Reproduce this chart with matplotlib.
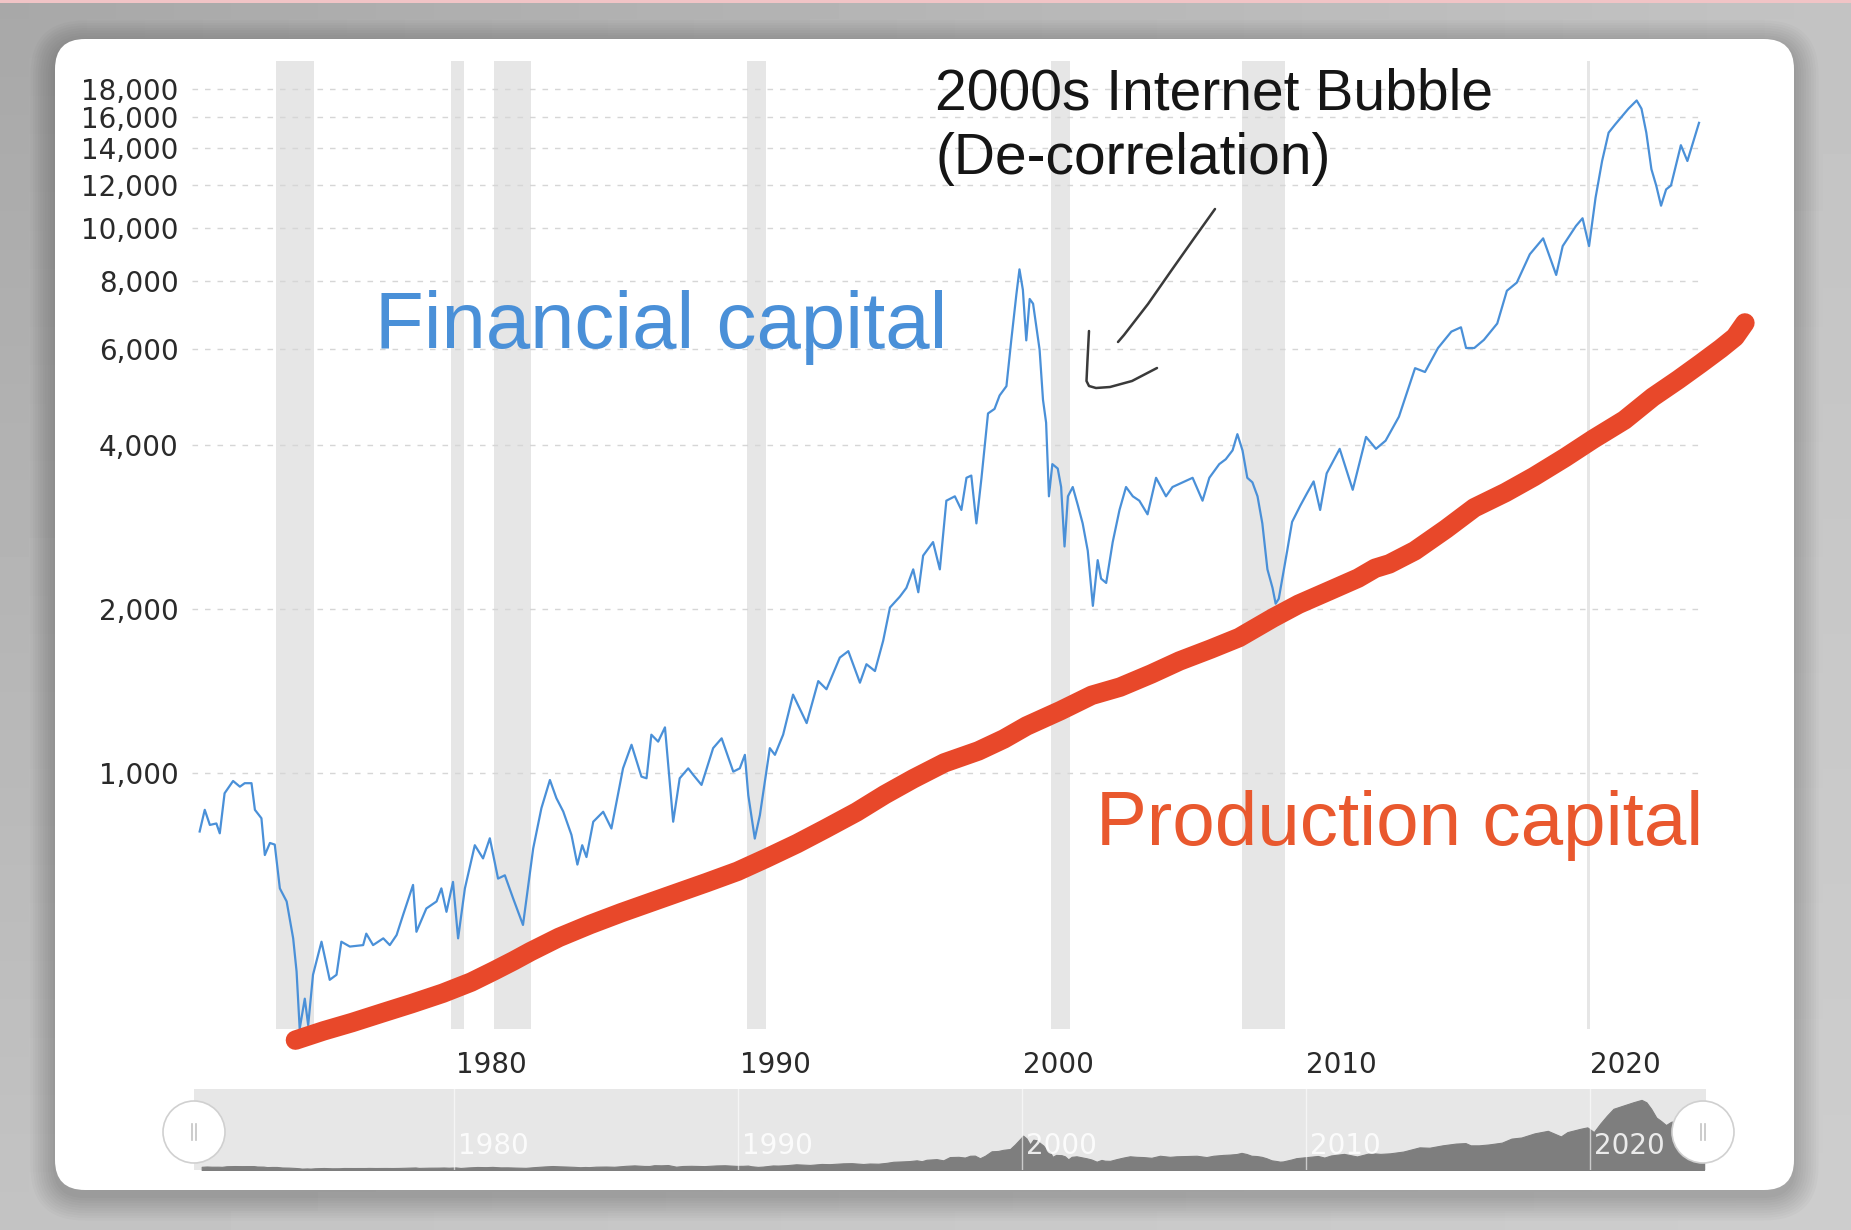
import numpy as np
import matplotlib
matplotlib.use('Agg')
import matplotlib.pyplot as plt
import matplotlib.transforms as mtransforms
from matplotlib.patches import FancyBboxPatch, Circle, Rectangle
from matplotlib.ticker import FixedLocator, FuncFormatter, NullLocator

W, H = 1851, 1230
DPI = 100

# Financial capital: index value (inflation adjusted)
fin_year = [
    1971.12, 1971.30, 1971.48, 1971.71, 1971.83, 1972.00, 1972.30, 1972.54, 1972.71, 1972.95,
    1973.07, 1973.30, 1973.42, 1973.60, 1973.77, 1973.95, 1974.19, 1974.42, 1974.54, 1974.65,
    1974.83, 1974.95, 1975.12, 1975.42, 1975.71, 1975.95, 1976.12, 1976.42, 1976.89, 1977.00,
    1977.24, 1977.60, 1977.83, 1978.07, 1978.30, 1978.65, 1978.77, 1979.12, 1979.48, 1979.65,
    1979.83, 1980.06, 1980.24, 1980.48, 1980.83, 1981.12, 1981.36, 1981.65, 1981.89, 1982.18,
    1982.53, 1982.89, 1983.18, 1983.48, 1983.71, 1983.95, 1984.24, 1984.45, 1984.62, 1984.77,
    1985.01, 1985.36, 1985.65, 1986.06, 1986.36, 1986.71, 1986.89, 1987.06, 1987.30, 1987.54,
    1987.83, 1988.06, 1988.36, 1988.54, 1988.83, 1989.24, 1989.54, 1989.95, 1990.18, 1990.36,
    1990.48, 1990.71, 1990.89, 1991.24, 1991.42, 1991.71, 1992.06, 1992.54, 1992.95, 1993.24,
    1993.71, 1994.01, 1994.42, 1994.65, 1994.95, 1995.24, 1995.48, 1995.83, 1996.06, 1996.30,
    1996.48, 1996.65, 1997.00, 1997.24, 1997.47, 1997.77, 1998.00, 1998.18, 1998.35, 1998.53,
    1998.71, 1998.94, 1999.17, 1999.35, 1999.59, 1999.76, 1999.94, 2000.05, 2000.17, 2000.29,
    2000.41, 2000.53, 2000.62, 2000.76, 2000.88, 2000.99, 2001.09, 2001.21, 2001.40, 2001.52,
    2001.64, 2001.76, 2001.93, 2002.11, 2002.28, 2002.46, 2002.64, 2002.81, 2002.93, 2003.11,
    2003.34, 2003.58, 2003.81, 2004.05, 2004.28, 2004.57, 2004.87, 2005.22, 2005.45, 2005.81,
    2006.16, 2006.51, 2006.75, 2007.10, 2007.33, 2007.57, 2007.74, 2007.92, 2008.09, 2008.27,
    2008.45, 2008.62, 2008.80, 2008.98, 2009.09, 2009.20, 2009.50, 2009.67, 2009.96, 2010.19,
    2010.43, 2010.66, 2010.89, 2011.35, 2011.81, 2012.28, 2012.63, 2012.97, 2013.44, 2014.01,
    2014.36, 2014.82, 2015.29, 2015.63, 2015.81, 2016.10, 2016.44, 2016.91, 2017.25, 2017.60,
    2018.06, 2018.53, 2018.99, 2019.22, 2019.69, 2019.92, 2020.15, 2020.38, 2020.61, 2020.84,
    2021.07, 2021.54, 2021.83, 2022.00, 2022.17, 2022.35, 2022.52, 2022.69, 2022.87, 2023.04,
    2023.39, 2023.62, 2024.03,
]
fin_value = [
    782, 857, 804, 809, 776, 919, 968, 945, 959, 959,
    857, 827, 708, 745, 740, 615, 582, 498, 433, 340,
    386, 345, 427, 491, 418, 427, 491, 481, 484, 508,
    484, 498, 484, 505, 550, 624, 512, 565, 582, 615,
    557, 632, 498, 615, 738, 698, 760, 641, 650, 590,
    527, 728, 863, 972, 900, 851, 771, 680, 738, 702,
    815, 850, 792, 1021, 1128, 986, 979, 1177, 1143, 1214,
    815, 979, 1021, 993, 952, 1112, 1159, 1007, 1021, 1081,
    912, 759, 838, 1112, 1081, 1177, 1394, 1236, 1476, 1426,
    1630, 1675, 1466, 1585, 1540, 1750, 2014, 2109, 2188, 2366,
    2148, 2507, 2655, 2366, 3162, 3221, 3041, 3483, 3516, 2873,
    3483, 4571, 4659, 4932, 5129, 6223, 7551, 8400, 7704, 6223,
    7413, 7266, 6730, 5984, 4842, 4396, 3221, 3690, 3622, 3350,
    2606, 3221, 3350, 3102, 2873, 2559, 2028, 2460, 2275, 2234,
    2655, 3041, 3350, 3221, 3162, 2985, 3483, 3221, 3350, 3417,
    3483, 3162, 3483, 3690, 3767, 3911, 4188, 3911, 3483, 3417,
    3221, 2873, 2366, 2188, 2047, 2090, 2564, 2891, 3097, 3258,
    3430, 3041, 3548, 3936, 3311, 4140, 3936, 4074, 4508, 5534,
    5445, 6026, 6457, 6577, 6026, 6026, 6237, 6683, 7674, 7943,
    8954, 9575, 8204, 9268, 10093, 10423, 9268, 11376, 13274, 14962,
    15488, 16557, 17140, 16557, 14962, 12823, 11967, 10990, 11776, 11967,
    14191, 13274, 15596,
]

# Production capital: the hand drawn red trend line
prod_year = [1974.50, 1975.50, 1976.50, 1977.60, 1978.60, 1979.70, 1980.70, 1981.50, 1982.20,
             1982.80, 1983.80, 1984.90, 1986.00, 1987.00, 1988.00, 1989.00, 1990.10, 1991.10,
             1992.20, 1993.20, 1994.30, 1995.30, 1996.30, 1997.40, 1998.60, 1999.50, 2000.30,
             2001.50, 2002.60, 2003.60, 2004.70, 2005.70, 2006.80, 2007.80, 2009.00, 2009.90,
             2011.00, 2012.00, 2012.60, 2013.10, 2014.00, 2015.10, 2016.10, 2017.20, 2018.20,
             2019.30, 2020.30, 2021.40, 2022.40, 2023.30, 2024.10, 2024.80, 2025.30, 2025.65]
prod_value = [324, 337, 349, 364, 378, 395, 414, 434, 453,
              471, 500, 528, 555, 579, 604, 630, 661, 698,
              743, 791, 849, 914, 977, 1045, 1099, 1156, 1221,
              1303, 1390, 1439, 1521, 1607, 1690, 1774, 1928, 2042,
              2163, 2280, 2377, 2421, 2559, 2805, 3069, 3273, 3499,
              3793, 4102, 4446, 4898, 5272, 5649, 6012, 6310, 6699]

# recession periods (grey bands)
rec_start = [1973.83, 1980.00, 1981.50, 1990.45, 2001.17, 2007.92, 2020.08]
rec_end = [1975.17, 1980.45, 1982.83, 1991.10, 2001.83, 2009.42, 2020.18]

y_ticks = [1000, 2000, 4000, 6000, 8000, 10000, 12000, 14000, 16000, 18000]
x_ticks = [1980, 1990, 2000, 2010, 2020]

BLUE = '#4a90d8'
RED = '#e8482a'
RED_TXT = '#e9582e'
TXT = 'Liberation Sans'

fig = plt.figure(figsize=(W / DPI, H / DPI), dpi=DPI)

# background + card, in pixel coordinates
bg = fig.add_axes([0, 0, 1, 1])
bg.set_xlim(0, W)
bg.set_ylim(H, 0)
bg.axis('off')
gx, gy = np.meshgrid(np.linspace(0, 1, 64), np.linspace(0, 1, 64))
shade = 168 + 27 * gx + 27 * gy - 17 * gx * gy
bg.imshow(shade, cmap='gray', vmin=0, vmax=255, extent=(0, W, H, 0), aspect='auto', zorder=0)
bg.add_patch(Rectangle((0, 0), W, 3, fc='#f1c4c6', ec='none', zorder=1))
for i in range(10):
    s = 2 + i * 2.5
    bg.add_patch(FancyBboxPatch((55 - s, 39 - s + 6), 1739 + 2 * s, 1151 + 2 * s,
                                boxstyle='round,pad=0,rounding_size=%d' % (30 + s),
                                fc='black', ec='none', alpha=0.018, zorder=1))
bg.add_patch(FancyBboxPatch((55, 39), 1739, 1151, boxstyle='round,pad=0,rounding_size=30',
                            fc='white', ec='none', zorder=2))

# main chart
x_lo, x_hi = 1970.85, 2024.1
ax = fig.add_axes([192 / W, 1 - 1029 / H, (1701 - 192) / W, (1029 - 61) / H])
ax.patch.set_alpha(0)
ax.set_yscale('log')
ax.set_xlim(x_lo, x_hi)
ax.set_ylim(339.6, 20250)
for s in ax.spines.values():
    s.set_visible(False)

for a, b in zip(rec_start, rec_end):
    ax.axvspan(a, b, color='#e6e6e6', lw=0, zorder=0)
for v in y_ticks:
    ax.axhline(v, color='#d6d6d6', lw=1, ls=(0, (4, 5)), zorder=1)

ax.plot(fin_year, fin_value, color=BLUE, lw=1.6, zorder=3, solid_joinstyle='round')
ax.plot(prod_year, prod_value, color=RED, lw=14, solid_capstyle='round',
        solid_joinstyle='round', clip_on=False, zorder=4)

ax.yaxis.set_major_locator(FixedLocator(y_ticks))
ax.yaxis.set_minor_locator(NullLocator())
ax.yaxis.set_major_formatter(FuncFormatter(lambda v, p: '{:,.0f}'.format(v)))
ax.set_xticks(x_ticks)
ax.set_xticklabels([str(y) for y in x_ticks])
ax.tick_params(axis='y', length=0, pad=9.5, labelsize=20, labelcolor='#2a2a2a')
ax.tick_params(axis='x', length=0, pad=15.5, labelsize=20, labelcolor='#2a2a2a')
shift = mtransforms.ScaledTranslation(5 / DPI, 0, fig.dpi_scale_trans)
for lab in ax.get_xticklabels():
    lab.set_horizontalalignment('left')
    lab.set_transform(lab.get_transform() + shift)

# navigator strip under the chart
nav = fig.add_axes([194 / W, 1 - 1170 / H, (1706 - 194) / W, (1170 - 1089) / H])
nav.set_facecolor('#e7e7e7')
nav.set_xlim(x_lo, x_hi)
nav.set_ylim(0, 19800)
nav.fill_between(fin_year, fin_value, 0, color='#7e7e7e', lw=0.8, zorder=2)
nav.set_xticks([])
nav.set_yticks([])
for s in nav.spines.values():
    s.set_visible(False)
nav_tr = mtransforms.blended_transform_factory(nav.transData, nav.transAxes)
for yr in x_ticks:
    nav.axvline(yr, color='white', lw=1, alpha=0.6, zorder=3)
    nav.text(yr + 0.15, 0.3, str(yr), transform=nav_tr, ha='left', va='center',
             fontsize=20, color='white', alpha=0.85, zorder=4)

# overlay: labels, hand drawn arrow, navigator handles
fg = fig.add_axes([0, 0, 1, 1])
fg.set_xlim(0, W)
fg.set_ylim(H, 0)
fg.axis('off')
fg.patch.set_alpha(0)

fg.text(375, 348, 'Financial capital', fontsize=57.5, color=BLUE, family=TXT, va='baseline')
fg.text(1096, 845, 'Production capital', fontsize=55, color=RED_TXT, family=TXT, va='baseline')
fg.text(935, 109, '2000s Internet Bubble', fontsize=41, color='#151515', family=TXT, va='baseline')
fg.text(935, 174, '(De-correlation)', fontsize=41, color='#151515', family=TXT, va='baseline')

arrow_x = [1215, 1195, 1171, 1148, 1124, 1118]
arrow_y = [209, 237, 271, 304, 335, 342]
fg.plot(arrow_x, arrow_y, color='#3a3a3a', lw=1.8, solid_capstyle='round')
head_x = [1089, 1087.5, 1086.5, 1089, 1096, 1110, 1132, 1157]
head_y = [331, 360, 381, 386, 388, 387, 381, 368]
fg.plot(head_x, head_y, color='#3a3a3a', lw=1.8, solid_capstyle='round', solid_joinstyle='round')

for cx, cy in [(194, 1132), (1703, 1132)]:
    fg.add_patch(Circle((cx, cy), 31, fc='white', ec='#d0d0d0', lw=1.2, zorder=5))
    fg.plot([cx - 2, cx - 2], [cy - 8, cy + 8], color='#c4c4c4', lw=1.2, zorder=6)
    fg.plot([cx + 2, cx + 2], [cy - 8, cy + 8], color='#c4c4c4', lw=1.2, zorder=6)

fig.savefig('out.png', dpi=DPI)
